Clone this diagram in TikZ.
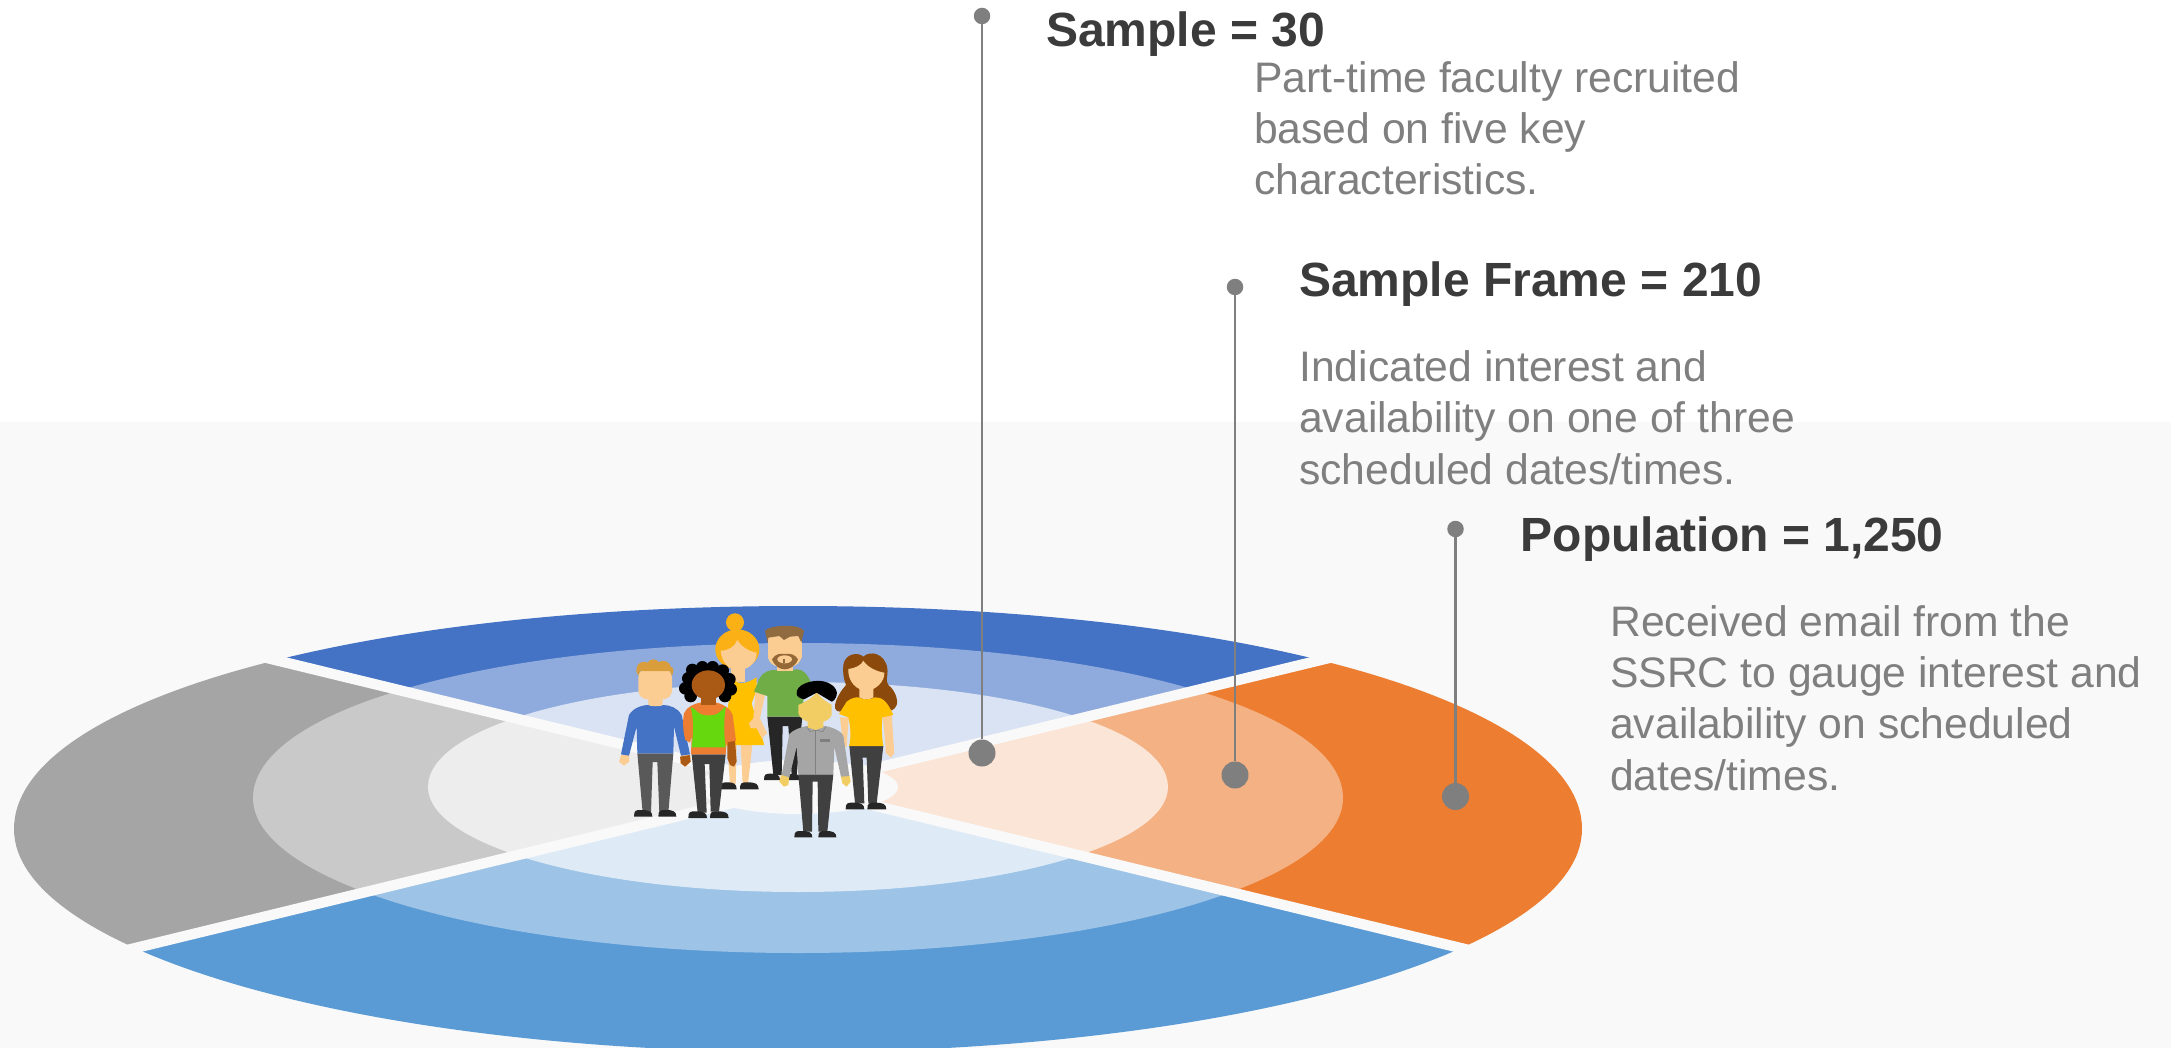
\documentclass[tikz,border=0pt]{standalone}
\usepackage{fontspec}
\setmainfont{Liberation Sans}
\definecolor{bgpanel}{HTML}{F9F9F9}
\definecolor{topA}{HTML}{4472C4}\definecolor{topB}{HTML}{8FAADC}\definecolor{topC}{HTML}{DAE3F3}
\definecolor{rgtA}{HTML}{ED7D31}\definecolor{rgtB}{HTML}{F4B183}\definecolor{rgtC}{HTML}{FBE5D6}
\definecolor{botA}{HTML}{5B9BD5}\definecolor{botB}{HTML}{9DC3E6}\definecolor{botC}{HTML}{DEEBF7}
\definecolor{lftA}{HTML}{A5A5A5}\definecolor{lftB}{HTML}{C9C9C9}\definecolor{lftC}{HTML}{EDEDED}
\definecolor{leader}{HTML}{7F7F7F}\definecolor{headtext}{HTML}{3B3B3B}
\definecolor{skin}{HTML}{FBCD92}\definecolor{skinB}{HTML}{AB5A16}\definecolor{skinC}{HTML}{F2CD64}
\definecolor{pantsA}{HTML}{595959}\definecolor{pantsB}{HTML}{404040}\definecolor{shoecol}{HTML}{262626}
\definecolor{hairA}{HTML}{D99E3B}\definecolor{hairB}{HTML}{FBB116}\definecolor{hairC}{HTML}{8F6B3F}\definecolor{hairD}{HTML}{8B4A0B}
\definecolor{dress}{HTML}{FFC000}\definecolor{shirtG}{HTML}{70AD47}\definecolor{tank}{HTML}{66D80E}
\tikzset{
  headtxt/.style={anchor=base west,inner sep=0pt,text=headtext,font=\fontsize{48}{57.6}\selectfont\bfseries},
  bodytxt/.style={anchor=base west,inner sep=0pt,text=leader,align=left,font=\fontsize{42.67}{51.3}\selectfont},
  dotbig/.style={circle,fill=leader,inner sep=0pt,minimum size=27pt},
  dotsmall/.style={circle,fill=leader,inner sep=0pt,minimum size=16.5pt},
  leadline/.style={draw=leader,line width=2.8pt},
  gapband/.style={draw=bgpanel,line width=10.4pt,line cap=butt}
}
% ring outline: upper half slightly fuller than an ellipse
\newcommand{\blob}[5]{\fill[#1] (#2-#4,#3)
  .. controls (#2-#4,#3-0.568*#5) and (#2-0.568*#4,#3-#5) .. (#2,#3-#5)
  .. controls (#2+0.568*#4,#3-#5) and (#2+#4,#3-0.568*#5) .. (#2+#4,#3)
  .. controls (#2+#4,#3+0.5523*#5) and (#2+0.5523*#4,#3+#5) .. (#2,#3+#5)
  .. controls (#2-0.5523*#4,#3+#5) and (#2-#4,#3+0.5523*#5) .. (#2-#4,#3) -- cycle;}
\newcommand{\ringset}[3]{%
  \blob{#1}{798}{829}{784}{223}
  \blob{#2}{798}{798}{545}{155}
  \blob{#3}{798}{787}{370}{105}}
\newcommand{\shoe}[4]{\fill[shoecol] (#1,#4) .. controls (#1,#3) and (#1+6,#3) .. (#1+22,#3) .. controls (#2-10,#3) and (#2,#3+4) .. (#2,#4) -- cycle;}
\begin{document}
\begin{tikzpicture}[x=1pt,y=-1pt]
\clip (0,0) rectangle (2171,1048);
\fill[white] (0,0) rectangle (2171,1048);
\fill[bgpanel] (0,422) rectangle (2171,1048);
% sectors
\begin{scope}\clip (798,787) -- (-202,544) -- (-202,-100) -- (1798,-100) -- (1798,544) -- cycle; \ringset{topA}{topB}{topC}\end{scope}
\begin{scope}\clip (798,787) -- (1798,544) -- (1798,1030) -- cycle; \ringset{rgtA}{rgtB}{rgtC}\end{scope}
\begin{scope}\clip (798,787) -- (1798,1030) -- (1798,1500) -- (-202,1500) -- (-202,1030) -- cycle; \ringset{botA}{botB}{botC}\end{scope}
\begin{scope}\clip (798,787) -- (-202,1030) -- (-202,544) -- cycle; \ringset{lftA}{lftB}{lftC}\end{scope}
\coordinate (gapUL) at (-202,544); \coordinate (gapLR) at (1798,1030);
\coordinate (gapLL) at (-202,1030); \coordinate (gapUR) at (1798,544);
\draw[gapband] (gapUL) -- (gapLR);
\draw[gapband] (gapLL) -- (gapUR);
\fill[bgpanel] (798,787) ellipse [x radius=100pt,y radius=27pt];
% people, in 3x crop coordinates
\begin{scope}[shift={(580,590)},x=0.33333pt,y=-0.33333pt]
% bun woman
\fill[hairB] (465,97) circle [radius=27];
\fill[hairB] (472,178) ellipse [x radius=66,y radius=60];
\fill[skin] (452,225) rectangle (495,275);
\fill[skin] (442,465) -- (470,465) -- (467,582) -- (450,582) -- cycle;
\fill[skin] (482,465) -- (517,465) -- (504,582) -- (488,582) -- cycle;
\shoe{422}{470}{577}{598}\shoe{480}{536}{577}{598}
\fill[dress] (455,262) .. controls (470,285) and (495,285) .. (530,262) -- (530,300) -- (515,340) -- (553,465) -- (428,465) -- (440,380) -- cycle;
\fill[skin] (422,182) .. controls (445,182) and (465,170) .. (472,150) .. controls (485,172) and (510,185) .. (530,188) .. controls (530,225) and (495,242) .. (472,240) .. controls (445,240) and (425,215) .. (422,182) -- cycle;
% bearded man
\fill[shoecol] (562,380) -- (667,380) -- (650,555) -- (635,555) -- (625,408) -- (608,408) -- (605,555) -- (580,555) -- cycle;
\shoe{552}{600}{551}{570}\shoe{622}{660}{551}{570}
\fill[skin] (527,300) -- (555,315) -- (540,385) -- (561,430) -- (545,445) -- (530,415) -- (512,415) -- (507,400) -- (520,385) -- cycle;
\fill[shirtG] (522,305) -- (540,262) .. controls (552,245) and (570,238) .. (590,240) .. controls (610,245) and (630,240) .. (650,238) .. controls (670,238) and (682,250) .. (697,287) -- (670,315) -- (670,380) -- (562,380) -- (562,318) -- cycle;
\fill[skin] (590,215) rectangle (640,242);
\fill[skin] (563,130) rectangle (665,205);
\fill[skin] (563,195) .. controls (565,225) and (590,232) .. (614,232) .. controls (640,232) and (663,225) .. (665,195) -- cycle;
\fill[hairC] (555,122) .. controls (570,105) and (655,100) .. (672,122) -- (664,158) -- (655,138) -- (630,140) -- (612,150) -- (598,138) -- (565,143) -- (563,158) -- cycle;
\fill[hairC!80!skinB] (576,208) .. controls (585,190) and (605,190) .. (614,192) .. controls (630,190) and (645,192) .. (654,208) .. controls (645,232) and (625,238) .. (614,238) .. controls (600,238) and (585,230) .. (576,208) -- cycle;
\fill[skin] (614,208) ellipse [x radius=22,y radius=12];
\fill[hairC] (610,208) rectangle (616,218);
% long hair woman
\fill[hairD] (790,225) .. controls (795,190) and (835,185) .. (850,200) .. controls (870,180) and (915,190) .. (922,235) .. controls (925,260) and (915,270) .. (925,285) .. controls (945,300) and (955,330) .. (950,345) .. controls (945,360) and (930,365) .. (920,362) -- (790,360) .. controls (775,372) and (762,360) .. (765,345) .. controls (770,320) and (785,300) .. (798,285) .. controls (790,265) and (788,245) .. (790,225) -- cycle;
\fill[skin] (780,382) -- (806,382) -- (800,470) -- (790,470) -- cycle;
\fill[skin] (908,378) -- (935,375) -- (943,490) -- (932,503) -- (917,488) -- (917,470) -- cycle;
\fill[pantsB] (808,468) -- (910,468) -- (890,640) -- (865,640) -- (860,503) -- (848,503) -- (853,640) -- (825,640) -- cycle;
\shoe{797}{853}{638}{658}\shoe{862}{919}{638}{658}
\fill[dress] (777,372) -- (800,335) .. controls (815,322) and (830,322) .. (835,322) .. controls (850,330) and (870,330) .. (885,322) .. controls (905,322) and (920,330) .. (940,375) -- (907,382) .. controls (905,410) and (905,440) .. (910,468) -- (807,468) .. controls (815,440) and (810,400) .. (805,382) -- cycle;
\fill[skin] (838,290) -- (880,290) -- (880,322) .. controls (870,330) and (850,330) .. (838,322) -- cycle;
\fill[skin] (805,237) .. controls (825,235) and (845,225) .. (850,212) .. controls (860,230) and (890,245) .. (913,248) .. controls (915,275) and (885,302) .. (860,302) .. controls (830,302) and (803,275) .. (805,237) -- cycle;
% blue man
\fill[pantsA] (172,490) -- (280,490) -- (265,668) -- (238,668) -- (232,516) -- (218,516) -- (213,668) -- (188,668) -- cycle;
\shoe{162}{217}{660}{680}\shoe{235}{289}{660}{680}
\fill[skin] (123,495) -- (148,495) -- (147,515) -- (132,527) -- (117,515) -- cycle;
\fill[skin] (303,495) -- (330,495) -- (332,515) -- (318,530) -- (300,520) -- cycle;
\fill[topA] (147,375) .. controls (160,352) and (190,345) .. (205,345) .. controls (215,350) and (240,350) .. (250,345) .. controls (270,345) and (295,355) .. (305,375) -- (330,493) -- (303,497) -- (282,410) -- (280,490) -- (172,490) -- (170,410) -- (147,497) -- (123,493) -- cycle;
\fill[skin] (205,315) -- (248,315) -- (248,345) .. controls (240,350) and (215,350) .. (205,345) -- cycle;
\fill[skin,rounded corners=9pt] (175,235) rectangle (276,328);
\fill[hairA] (170,232) .. controls (180,210) and (195,215) .. (203,218) .. controls (210,205) and (228,205) .. (236,216) .. controls (250,208) and (270,215) .. (272,230) .. controls (285,232) and (280,250) .. (275,257) -- (270,243) -- (180,243) -- (175,257) .. controls (168,250) and (168,240) .. (170,232) -- cycle;
% curly woman
\foreach \cx/\cy in {337/240,367/232,398/232,428/242,448/268,452/298,435/318,332/318,316/295,325/265}{\fill[black] (\cx,\cy) circle [radius=19];}
\fill[black] (385,278) ellipse [x radius=60,y radius=48];
\fill[skinB] (300,500) -- (330,495) -- (332,515) -- (315,530) -- (303,520) -- cycle;
\fill[skinB] (442,450) -- (465,450) -- (470,515) -- (462,530) -- (450,525) -- (442,505) -- cycle;
\fill[pantsB] (335,493) -- (437,493) -- (417,665) -- (392,665) -- (388,522) -- (374,522) -- (380,668) -- (353,668) -- cycle;
\shoe{325}{381}{664}{684}\shoe{390}{446}{664}{684}
\fill[rgtA] (312,370) .. controls (320,350) and (345,340) .. (360,338) -- (410,338) .. controls (435,345) and (450,355) .. (458,375) -- (468,452) -- (440,457) -- (437,493) -- (333,493) -- (335,440) -- (330,458) -- (316,450) .. controls (308,420) and (308,390) .. (312,370) -- cycle;
\fill[tank] (332,352) .. controls (345,350) and (350,378) .. (385,376) .. controls (420,378) and (425,355) .. (438,350) .. controls (430,390) and (432,440) .. (437,472) -- (335,472) .. controls (340,430) and (342,390) .. (332,352) -- cycle;
\fill[skinB] (362,310) rectangle (408,345);
\fill[skinB] (385,285) ellipse [x radius=50,y radius=44];
% gray man
\fill[pantsB] (655,553) -- (760,553) -- (742,725) -- (715,725) -- (713,575) -- (698,575) -- (696,725) -- (670,725) -- cycle;
\shoe{643}{697}{723}{742}\shoe{715}{769}{723}{742}
\fill[skinC] (603,555) -- (628,555) -- (625,585) -- (612,590) -- (598,575) -- cycle;
\fill[skinC] (782,555) -- (808,555) -- (812,575) -- (800,590) -- (787,580) -- cycle;
\fill[lftA] (605,555) -- (628,432) .. controls (640,420) and (660,412) .. (680,408) -- (735,408) .. controls (760,412) and (785,425) .. (790,437) -- (808,558) -- (783,560) -- (763,470) -- (760,553) -- (655,553) -- (650,470) -- (628,562) -- cycle;
\draw[leader,line width=0.7pt] (707,420) -- (707,553);
\draw[leader,line width=0.5pt] (680,410) -- (690,425) -- (707,420) -- (728,425) -- (738,410);
\fill[leader] (720,447) rectangle (750,456);
\fill[skinC] (683,385) -- (730,385) -- (730,412) -- (707,420) -- (683,412) -- cycle;
\fill[skinC] (655,345) .. controls (670,338) and (700,325) .. (710,305) .. controls (720,325) and (745,338) .. (755,345) -- (755,375) .. controls (745,395) and (725,398) .. (705,398) .. controls (680,398) and (658,385) .. (655,370) -- cycle;
\fill[black] (650,310) .. controls (648,285) and (690,270) .. (722,273) .. controls (750,275) and (775,295) .. (770,315) .. controls (768,325) and (760,335) .. (755,335) -- (710,308) -- (672,328) .. controls (660,325) and (650,320) .. (650,310) -- cycle;
\end{scope}
% leaders
\node[dotsmall] (topS) at (982,16) {};
\node[dotbig]   (botS) at (982,753) {};
\node[dotsmall] (topF) at (1235,287) {};
\node[dotbig]   (botF) at (1235,775) {};
\node[dotsmall] (topP) at (1455.5,529) {};
\node[dotbig]   (botP) at (1455.5,796.5) {};
\draw[leadline] (topS) -- (botS);
\draw[leadline] (topF) -- (botF);
\draw[leadline] (topP) -- (botP);
% text
\node[headtxt] (hS) at (1046,47) {Sample = 30};
\node[bodytxt] (tS) at (1254,195) {Part-time faculty recruited\\based on five key\\characteristics.};
\node[headtxt] (hF) at (1299,296.5) {Sample Frame = 210};
\node[bodytxt] (tF) at (1299,484) {Indicated interest and\\availability on one of three\\scheduled dates/times.};
\node[headtxt] (hP) at (1520.5,551.5) {Population = 1,250};
\node[bodytxt] (tP) at (1610,790) {Received email from the\\SSRC to gauge interest and\\availability on scheduled\\dates/times.};
\end{tikzpicture}
\end{document}
